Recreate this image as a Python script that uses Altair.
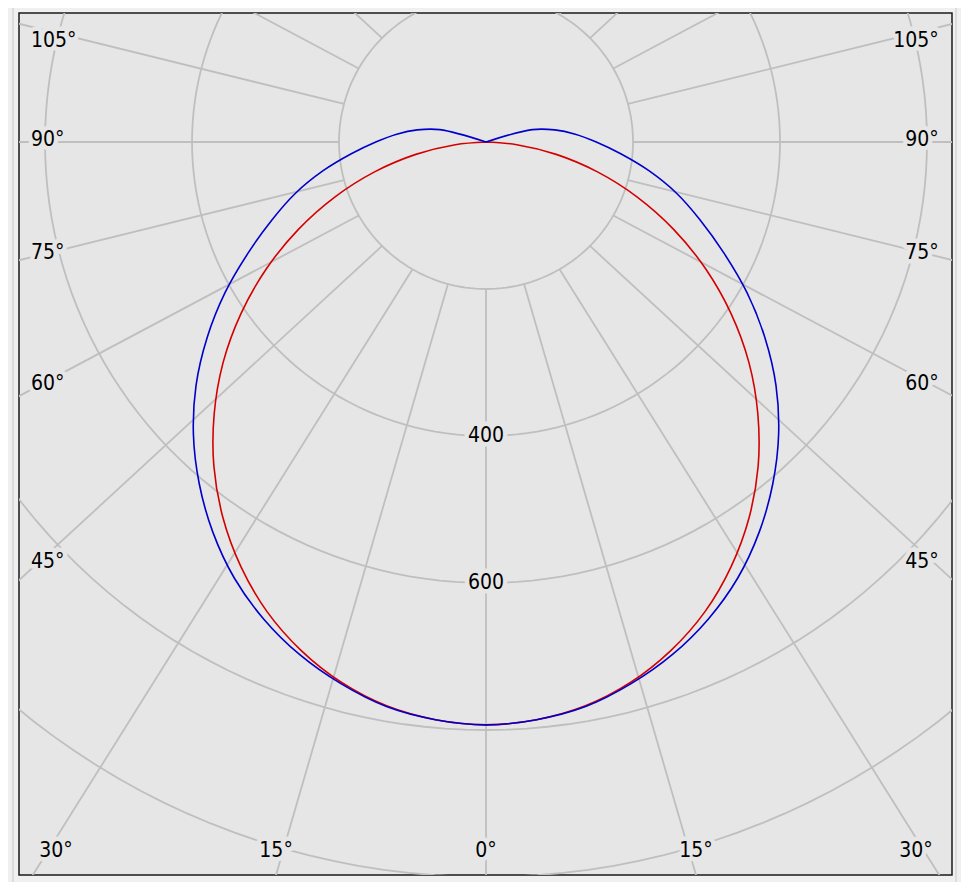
import altair as alt
import numpy as np
import pandas as pd

# ---------------- data ----------------
gamma = [0, 5, 10, 15, 20, 25, 30, 35, 40, 45, 50, 55, 60, 65, 70, 75, 80, 85, 90, 95, 100, 105, 110]
c0_c180 = [793, 789, 779, 761, 736, 705, 667, 624, 576, 523, 467, 407, 345, 282, 219, 157, 97, 42, 0, 0, 0, 0, 0]
c90_c270 = [793, 789, 780, 763, 742, 716, 685, 648, 607, 563, 515, 463, 410, 357, 310, 268, 225, 184, 150, 122, 95, 65, 0]

planes = ["C0 - C180", "C90 - C270"]
plane_colors = ["#d40000", "#0000cc"]

ring_values = [200, 400, 600, 800, 1000]
ring_labels = [400, 600]
spoke_angles = list(range(-180, 180, 15))
side_labels = [105, 90, 75, 60, 45]
bottom_labels = [30, 15, 0]

# ---------------- styling / layout ----------------
BG_PLOT = "#e6e6e6"
BG_OUT = "#f0f0f0"
GRID = "#bfbfbf"
FONT = "DejaVu Sans Condensed, Liberation Sans, Arial"
FS = 21
W, H = 933, 862
xs = alt.Scale(domain=[-635.4, 634.0], nice=False, zero=False)
ys = alt.Scale(domain=[-175.5, 997.3], nice=False, zero=False, reverse=True)
R_IN, R_OUT, SKEW = 200.0, 3000.0, 1.08
# label placement (in chart units)
SIDE_DIST, SIDE_TOP_LIMIT, SIDE_DY = 575.0, -138.0, -3.0
LEFT_X, RIGHT_X = -619.0, 616.0
BOTTOM_DIST, BOTTOM_Y, BOTTOM_X_LIMIT = 1066.0, 964.6, 585.0


def X(field="x"):
    return alt.X(f"{field}:Q", scale=xs, axis=None)


def Y(field="y"):
    return alt.Y(f"{field}:Q", scale=ys, axis=None)


# ---------------- grid rings ----------------
ring_df = pd.DataFrame([(r, t) for r in ring_values for t in range(0, 362, 2)], columns=["r", "t"])
rings = alt.Chart(ring_df).transform_calculate(
    x="datum.r*sin(datum.t*PI/180)", y="datum.r*cos(datum.t*PI/180)"
).mark_line(clip=True, color=GRID, strokeWidth=1.8).encode(
    x=X(), y=Y(), detail="r:N", order="t:Q"
)

# ---------------- spokes ----------------
spoke_df = pd.DataFrame([(a, e) for a in spoke_angles for e in (0, 1)], columns=["a", "end"])
spokes = alt.Chart(spoke_df).transform_calculate(
    r=f"datum.end ? {R_OUT} : {R_IN}", k=f"datum.end ? {SKEW} : 1"
).transform_calculate(
    x="datum.k*datum.r*sin(datum.a*PI/180)", y="datum.r*cos(datum.a*PI/180)"
).mark_line(clip=True, color=GRID, strokeWidth=1.8).encode(
    x=X(), y=Y(), detail="a:N", order="end:Q"
)

# ---------------- photometric curves ----------------
rows = []
for plane, vals in zip(planes, [c0_c180, c90_c270]):
    # keep the curve up to (and including) the first zero value
    n = next((i for i, v in enumerate(vals) if v == 0), len(vals) - 1) + 1
    g_use, v_use = gamma[:n], vals[:n]
    for side in (-1, 1):
        for g, v in zip(g_use, v_use):
            if side == -1 and g == 0:
                continue  # avoid duplicate point at the bottom
            rows.append((plane, side, g, v, side * g))
curve_df = pd.DataFrame(rows, columns=["plane", "side", "gamma", "I", "ord"])


def curve_layer(plane):
    return alt.Chart(curve_df).transform_filter(
        alt.datum.plane == plane
    ).transform_calculate(
        x="datum.side*datum.I*sin(datum.gamma*PI/180)",
        y="datum.I*cos(datum.gamma*PI/180)",
    ).mark_line(clip=True, strokeWidth=1.6, interpolate="catmull-rom").encode(
        x=X(), y=Y(),
        color=alt.Color("plane:N", scale=alt.Scale(domain=planes, range=plane_colors), legend=None),
        order="ord:Q",
    )


# ---------------- labels ----------------
def side_y(a):
    y = SIDE_DIST / np.tan(np.radians(a)) + SIDE_DY
    return max(y, SIDE_TOP_LIMIT)


def bottom_x(a):
    x = BOTTOM_DIST * np.tan(np.radians(a))
    return float(np.clip(x, -BOTTOM_X_LIMIT, BOTTOM_X_LIMIT))


left_df = pd.DataFrame({
    "text": [f"{a}°" for a in side_labels],
    "x": [LEFT_X] * len(side_labels),
    "y": [side_y(a) for a in side_labels],
})
right_df = pd.DataFrame({
    "text": [f"{a}°" for a in side_labels],
    "x": [RIGHT_X] * len(side_labels),
    "y": [side_y(a) for a in side_labels],
})
b_angles = [-a for a in bottom_labels] + [a for a in bottom_labels[::-1] if a != 0]
center_df = pd.DataFrame({
    "text": [f"{abs(a)}°" for a in b_angles] + [str(v) for v in ring_labels],
    "x": [bottom_x(a) for a in b_angles] + [0.0] * len(ring_labels),
    "y": [BOTTOM_Y] * len(b_angles) + [float(v) for v in ring_labels],
})


def text_layers(df, align):
    base = alt.Chart(df).encode(x=X(), y=Y(), text="text:N")
    halo = base.mark_text(
        font=FONT, fontSize=FS, align=align, baseline="middle",
        color=BG_PLOT, stroke=BG_PLOT, strokeWidth=9, strokeJoin="round",
    )
    txt = base.mark_text(
        font=FONT, fontSize=FS, align=align, baseline="middle", color="#000000"
    )
    return [halo, txt]


# outer group-box outline around the frame (decorative)
groupbox = alt.Chart(pd.DataFrame({"k": [0]})).mark_rect(
    filled=False, stroke="#c8c8c8", strokeWidth=1
).encode(
    x=alt.value(-6), x2=alt.value(W + 4), y=alt.value(-8), y2=alt.value(H + 8)
)

layers = [groupbox, rings, spokes, curve_layer(planes[0]), curve_layer(planes[1])]
layers += text_layers(left_df, "left")
layers += text_layers(right_df, "right")
layers += text_layers(center_df, "center")

chart = alt.layer(*layers).properties(
    width=W,
    height=H,
    padding={"left": 11, "top": 5, "right": 9, "bottom": 7},
    autosize=alt.AutoSizeParams(type="none"),
    background=BG_OUT,
).configure_view(fill=BG_PLOT, stroke="#1a1a1a", strokeWidth=1.5)

chart.save("out.html", embed_options={"renderer": "svg", "actions": False})
